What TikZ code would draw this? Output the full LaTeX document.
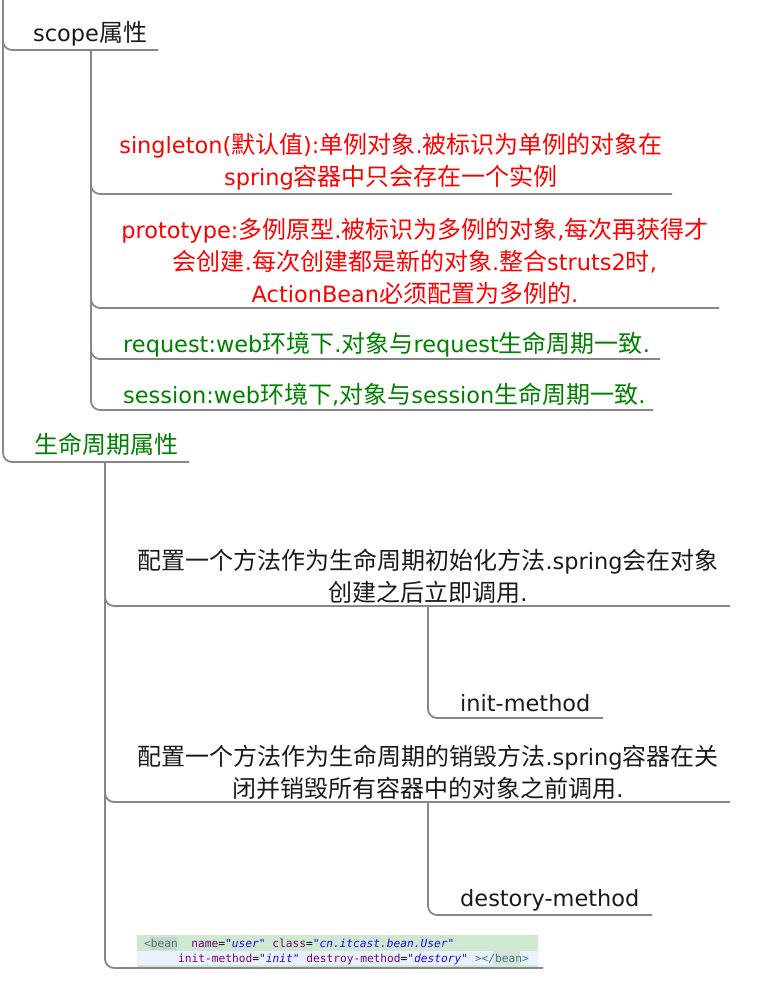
\documentclass[tikz,border=0pt]{standalone}
\usepackage{fontspec}
\setmainfont{DejaVu Sans}[Scale=0.935]
\newfontfamily\zhfont{Noto Sans CJK SC}
\newfontfamily\codefont{DejaVu Sans Mono}
\newcommand\Z[1]{{\zhfont #1}}
\newcommand\dq{\symbol{34}}
\definecolor{linegray}{HTML}{878787}
\definecolor{mmgreen}{HTML}{008000}
\definecolor{mmred}{HTML}{FF0000}
\definecolor{txtblack}{HTML}{1A1A1A}
\definecolor{codegreen}{HTML}{CFE8D0}
\definecolor{codeblue}{HTML}{E8F2FE}
\definecolor{codegrayhl}{HTML}{C9D3CA}
\definecolor{tagc}{HTML}{3F7F7F}
\definecolor{attrc}{HTML}{7F007F}
\definecolor{valc}{HTML}{2A00FF}
\begin{document}
\begin{tikzpicture}[x=1pt,y=-1pt,
  branch/.style={draw=linegray, line width=1.8pt, rounded corners=9pt},
  topic/.style={inner sep=0pt, font=\fontsize{24}{32}\selectfont, text=txtblack},
  codetxt/.style={inner sep=0pt, font=\codefont\fontsize{11.2}{14}\selectfont}]
\useasboundingbox (0,0) rectangle (766,990);

% junction / end coordinates
\coordinate (root) at (3,0);
\coordinate (scopeEnd) at (158,50);
\coordinate (scopeJ) at (91,50);
\coordinate (singleEnd) at (672,194);
\coordinate (protoEnd) at (719,308);
\coordinate (reqEnd) at (660,359);
\coordinate (sessEnd) at (653,410);
\coordinate (lifeEnd) at (189,462);
\coordinate (lifeJ) at (105,462);
\coordinate (initcEnd) at (730,606);
\coordinate (initcJ) at (428,606);
\coordinate (initmEnd) at (603,718);
\coordinate (destcEnd) at (730,802);
\coordinate (destcJ) at (428,802);
\coordinate (destmEnd) at (652,915);
\coordinate (codeEnd) at (543,968);

% code snippet
\node[fill=codegreen, minimum width=401pt, minimum height=16pt, inner sep=0pt, anchor=north west] (coderow1) at (137,935) {};
\node[fill=codeblue, minimum width=401pt, minimum height=14pt, inner sep=0pt, anchor=north west] (coderow2) at (137,951) {};
\node[fill=codegreen, minimum width=401pt, minimum height=3pt, inner sep=0pt, anchor=north west] (coderow3) at (137,965) {};
\node[fill=codegrayhl, minimum width=27pt, minimum height=13pt, inner sep=0pt, anchor=north west] (hl1) at (150,937) {};
\node[fill=codegrayhl!70!white, minimum width=27pt, minimum height=14pt, inner sep=0pt, anchor=north west] (hl2) at (493,951) {};
\node[codetxt, anchor=base west] (code1) at (144,947) {\textcolor{tagc}{<bean}\ \ \textcolor{attrc}{name}=\textcolor{valc}{\itshape\dq user\dq}\ \textcolor{attrc}{class}=\textcolor{valc}{\itshape\dq cn.itcast.bean.User\dq}};
\node[codetxt, anchor=base west] (code2) at (178,962) {\textcolor{attrc}{init-method}=\textcolor{valc}{\itshape\dq init\dq}\ \textcolor{attrc}{destroy-method}=\textcolor{valc}{\itshape\dq destory\dq}\ \textcolor{tagc}{></bean>}};

% branches
\draw[branch] (root) |- (scopeEnd);
\draw[branch] (root) |- (lifeEnd);
\draw[branch] (scopeJ) |- (singleEnd);
\draw[branch] (scopeJ) |- (protoEnd);
\draw[branch] (scopeJ) |- (reqEnd);
\draw[branch] (scopeJ) |- (sessEnd);
\draw[branch] (lifeJ) |- (initcEnd);
\draw[branch] (lifeJ) |- (destcEnd);
\draw[branch] (lifeJ) |- (codeEnd);
\draw[branch] (initcJ) |- (initmEnd);
\draw[branch] (destcJ) |- (destmEnd);

% topics
\node[topic, anchor=base west] (scope) at (33,42) {scope\Z{属性}};
\node[topic, anchor=base west, text=mmgreen] (life) at (34,453) {\Z{生命周期属性}};
\node[topic, align=center, text=mmred] (single) at (391,162)
  {singleton(\Z{默认值}):\Z{单例对象}.\Z{被标识为单例的对象在}\\spring\Z{容器中只会存在一个实例}};
\node[topic, align=center, text=mmred] (proto) at (415,261)
  {prototype:\Z{多例原型}.\Z{被标识为多例的对象},\Z{每次再获得才}\\\Z{会创建}.\Z{每次创建都是新的对象}.\Z{整合}struts2\Z{时},\\ActionBean\Z{必须配置为多例的}.};
\node[topic, anchor=base west, text=mmgreen] (req) at (123,352)
  {request:web\Z{环境下}.\Z{对象与}request\Z{生命周期一致}.};
\node[topic, anchor=base west, text=mmgreen] (sess) at (123,403)
  {session:web\Z{环境下},\Z{对象与}session\Z{生命周期一致}.};
\node[topic, align=center] (initc) at (428,576)
  {\Z{配置一个方法作为生命周期初始化方法}.spring\Z{会在对象}\\\Z{创建之后立即调用}.};
\node[topic, anchor=base west] (initm) at (460,711) {init-method};
\node[topic, align=center] (destc) at (428,772)
  {\Z{配置一个方法作为生命周期的销毁方法}.spring\Z{容器在关}\\\Z{闭并销毁所有容器中的对象之前调用}.};
\node[topic, anchor=base west] (destm) at (460,906) {destory-method};
\end{tikzpicture}
\end{document}
